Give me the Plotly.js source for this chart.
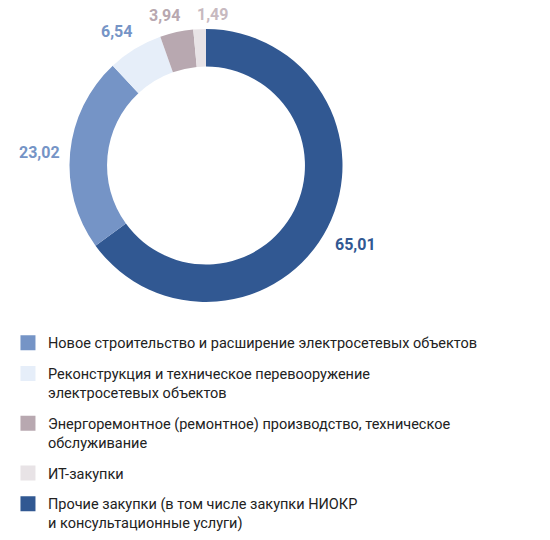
<!DOCTYPE html>
<html><head><meta charset="utf-8">
<script src="https://cdn.plot.ly/plotly-3.0.1.min.js"></script>
<style>html,body{margin:0;padding:0;background:#fff}</style>
</head><body>
<div id="chart" style="width:550px;height:540px"></div>
<script>
// Categories in legend order
const categories = [
  'Новое строительство и расширение электросетевых объектов',
  'Реконструкция и техническое перевооружение<br>электросетевых объектов',
  'Энергоремонтное (ремонтное) производство, техническое<br>обслуживание',
  'ИТ-закупки',
  'Прочие закупки (в том числе закупки НИОКР<br>и консультационные услуги)'
];
const values = [23.02, 6.54, 3.94, 1.49, 65.01];
const valueLabels = ['23,02', '6,54', '3,94', '1,49', '65,01'];
const colors = ['#7594C6', '#E6EEF9', '#B8A8B0', '#E8E3E6', '#315892'];
const labelColors = ['#7594C6', '#7594C6', '#B8A8B0', '#C7B9C0', '#315892'];

// Slice order drawn clockwise from 12 o'clock: last category first
const order = [4, 0, 1, 2, 3];
const W = 550, H = 540;
const cx = 206, cy = 165.5, R = 136.5;
const NUM_FONT = 'Roboto, "DejaVu Sans Condensed", sans-serif';
const numSize = 16;

const pie = {
  type: 'pie',
  values: order.map(i => values[i]),
  labels: order.map(i => categories[i]),
  marker: {colors: order.map(i => colors[i]), line: {width: 0}},
  sort: false,
  direction: 'clockwise',
  rotation: 0,
  hole: 0.725,
  textinfo: 'none',
  showlegend: false,
  hoverinfo: 'none',
  domain: {x: [(cx - R) / W, (cx + R) / W], y: [(H - cy - R) / H, (H - cy + R) / H]}
};

// value labels placed outside each slice at its mid-angle (derived from the data)
const total = values.reduce((a, b) => a + b, 0);
let cum = 0;
const boxes = order.map(i => {
  const mid = (cum + values[i] / 2) / total * 2 * Math.PI;
  cum += values[i];
  const s = Math.sin(mid), c = Math.cos(mid);
  const hw = valueLabels[i].length * 0.5 * numSize * 0.5;
  const hh = 7;
  const d = R + 10 + Math.abs(s) * hw + Math.abs(c) * hh;
  return {i: i, px: cx + d * s, py: cy - d * c + 3, hw: hw};
});
// simple collision avoidance between neighbouring labels on the same row
const gapMin = 16;
for (let pass = 0; pass < 5; pass++) {
  const sorted = boxes.slice().sort((a, b) => a.px - b.px);
  for (let k = 0; k + 1 < sorted.length; k++) {
    const a = sorted[k], b = sorted[k + 1];
    if (Math.abs(a.py - b.py) < 16) {
      const need = (a.hw + b.hw + gapMin) - (b.px - a.px);
      if (need > 0) { a.px -= need / 2; b.px += need / 2; }
    }
  }
}
const annotations = boxes.map(b => ({
  xref: 'paper', yref: 'paper',
  x: b.px / W, y: (H - b.py) / H,
  xanchor: 'center', yanchor: 'middle', showarrow: false,
  text: valueLabels[b.i],
  font: {family: NUM_FONT, size: numSize, weight: 'bold', color: labelColors[b.i]}
}));

const legendTraces = categories.map((c, i) => ({
  type: 'scatter', mode: 'markers', x: [null], y: [null],
  name: c, legendgroup: 'g' + i,
  marker: {symbol: 'square', size: 15, color: colors[i]},
  hoverinfo: 'none'
}));

const layout = {
  width: W, height: H,
  margin: {l: 0, r: 0, t: 0, b: 0, autoexpand: false},
  paper_bgcolor: '#fff', plot_bgcolor: '#fff',
  xaxis: {visible: false, domain: [0.99, 1]},
  yaxis: {visible: false, domain: [0.99, 1]},
  showlegend: true,
  annotations: annotations,
  legend: {
    x: 0.0145, xanchor: 'left', y: 0.395, yanchor: 'top',
    valign: 'top', tracegroupgap: 9, itemclick: false,
    font: {family: 'Roboto, "DejaVu Sans Condensed", sans-serif', size: 14.5, color: '#222'}
  }
};

Plotly.newPlot('chart', [pie].concat(legendTraces), layout, {displayModeBar: false, staticPlot: true});
</script>
</body></html>
